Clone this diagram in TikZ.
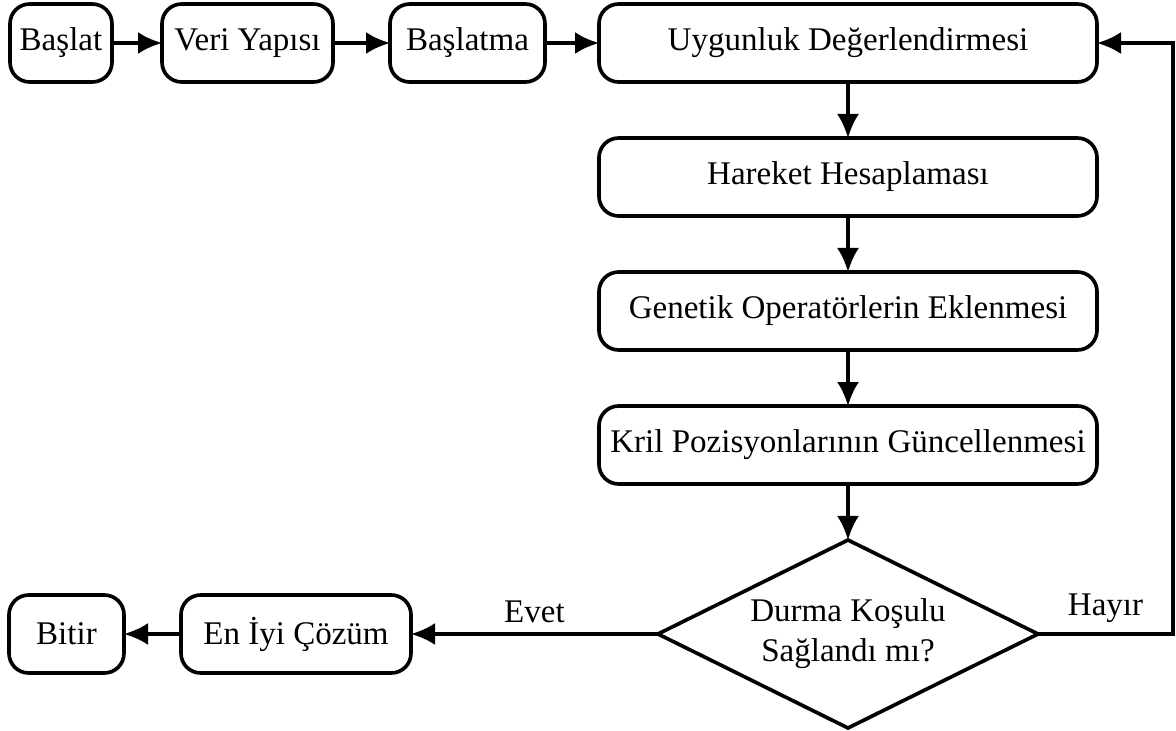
\documentclass[tikz,border=0pt]{standalone}
\usepackage{fontspec}
\setmainfont{Liberation Serif}
\usetikzlibrary{arrows.meta, positioning, shapes.geometric}

\begin{document}
\begin{tikzpicture}[
      stage/.style={draw, rounded corners=14pt, minimum height=1.95cm,
        inner sep=2pt, outer sep=0pt, align=center, line width=2.6pt},
      decision/.style={draw, diamond, aspect=2, minimum width=9.5cm,
        minimum height=4.7cm, inner sep=0pt, outer sep=0pt, align=center,
        line width=2.6pt},
      flow/.style={->, line width=2.4pt},
      answer/.style={above, inner sep=7pt},
      >={Latex[length=0.6cm, width=0.55cm]},
      font=\fontsize{23.5}{28.5}\selectfont
    ]
      \useasboundingbox (0,0) rectangle (29.4,-18.275);

      % top row
      \node[stage, minimum width=2.55cm, anchor=west] (start) at (0.25,-1.075) {Başlat};
      \node[stage, minimum width=4.275cm, right=1.25cm of start] (data) {Veri Yapısı};
      \node[stage, minimum width=3.875cm, right=1.425cm of data] (init) {Başlatma};
      \node[stage, minimum width=12.45cm, right=1.35cm of init] (fitness)
        {Uygunluk Değerlendirmesi};

      % main column
      \node[stage, minimum width=12.45cm, below=1.4cm of fitness] (motion)
        {Hareket Hesaplaması};
      \node[stage, minimum width=12.45cm, below=1.4cm of motion] (genetic)
        {Genetik Operatörlerin Eklenmesi};
      \node[stage, minimum width=12.45cm, below=1.4cm of genetic] (update)
        {Kril Pozisyonlarının Güncellenmesi};
      \node[decision, below=1.4cm of update] (stop)
        {Durma Koşulu\\Sağlandı mı?};

      % bottom row
      \node[stage, minimum width=5.75cm, left=6.175cm of stop] (best) {En İyi Çözüm};
      \node[stage, minimum width=2.875cm, left=1.425cm of best] (finish) {Bitir};

      \draw[flow] (start) -- (data);
      \draw[flow] (data) -- (init);
      \draw[flow] (init) -- (fitness);
      \draw[flow] (fitness) -- (motion);
      \draw[flow] (motion) -- (genetic);
      \draw[flow] (genetic) -- (update);
      \draw[flow] (update) -- (stop);
      \draw[flow] (stop) -- node[answer] {Evet} (best);
      \draw[flow] (best) -- (finish);
      \draw[flow] (stop.east) -- node[answer] {Hayır} ++(3.375,0) |- (fitness.east);
    \end{tikzpicture}
\end{document}
